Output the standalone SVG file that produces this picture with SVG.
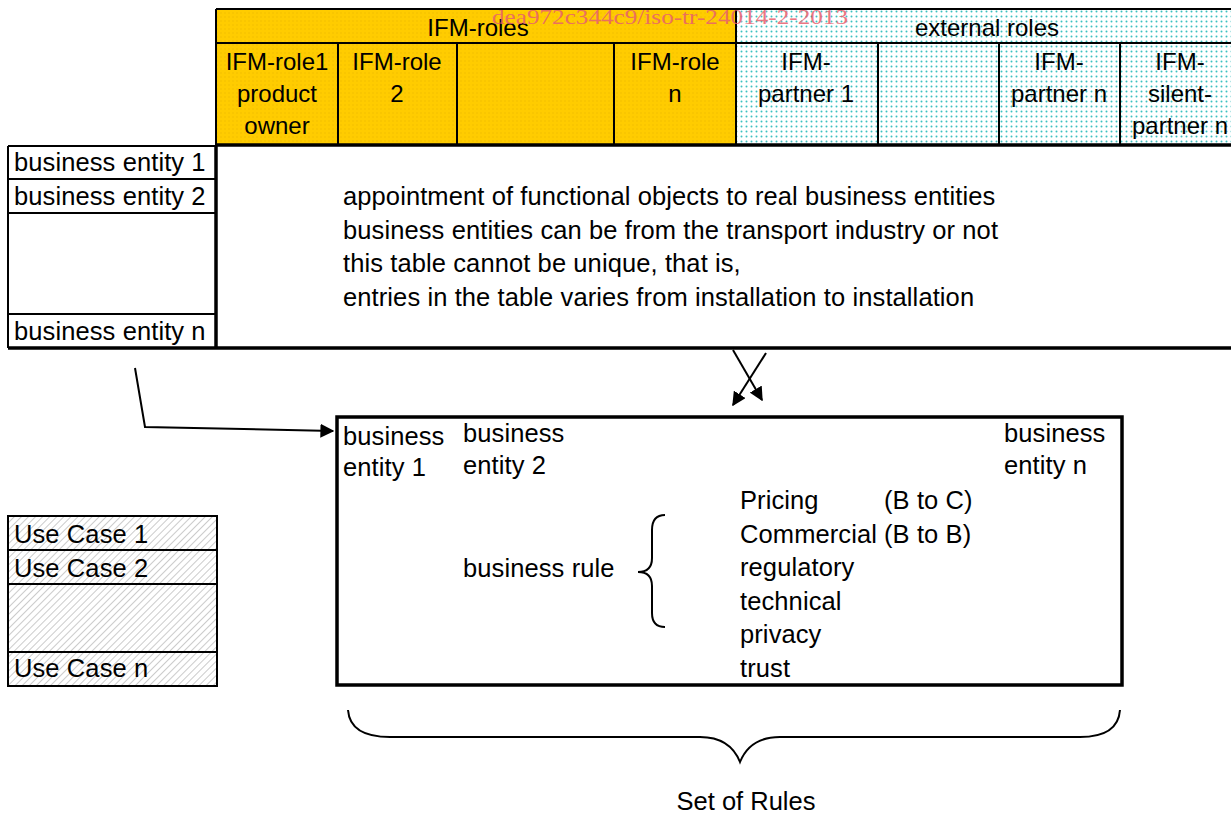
<svg xmlns="http://www.w3.org/2000/svg" width="1231" height="814" viewBox="0 0 1231 814">
<defs>
<pattern id="yel" width="4" height="4" patternUnits="userSpaceOnUse"><rect width="4" height="4" fill="#FFCC00"/><circle cx="1" cy="1" r="0.8" fill="#F2BE00"/></pattern>
<pattern id="cy" width="5" height="5" patternUnits="userSpaceOnUse"><rect width="5" height="5" fill="#ffffff"/><circle cx="1.5" cy="1.5" r="1" fill="#3CC0C0"/></pattern>
<pattern id="hatch" width="5" height="5" patternUnits="userSpaceOnUse" patternTransform="rotate(45)"><rect width="5" height="5" fill="#ffffff"/><line x1="0" y1="0" x2="0" y2="5" stroke="#a8a8a8" stroke-width="1.2"/></pattern>
<marker id="ah" viewBox="0 0 10 10" refX="9" refY="5" markerWidth="14" markerHeight="14" markerUnits="userSpaceOnUse" orient="auto"><path d="M0,0 L10,5 L0,10 z" fill="#000"/></marker>
<style>
text{font-family:"Liberation Sans",Arial,sans-serif;fill:#000}
.h{font-size:24px}
.b{font-size:25.5px;letter-spacing:0.1px}
.c{text-anchor:middle}
.ln{stroke:#000;stroke-width:2;fill:none}
.tk{stroke:#000;stroke-width:3.5;fill:none}
.wm{font-family:"Liberation Serif",serif;font-size:22px;fill:#e8606e;opacity:0.85}
</style>
</defs>

<g id="ifm-roles">
<rect x="216" y="9" width="520" height="136" fill="url(#yel)"/>
<line class="ln" x1="216" y1="43" x2="736" y2="43"/>
<text class="h c" x="478" y="36">IFM-roles</text>
</g>
<g id="external-roles">
<rect x="736" y="9" width="500" height="136" fill="url(#cy)"/>
<line class="ln" x1="736" y1="43" x2="1231" y2="43"/>
<text class="h c" x="987" y="36">external roles</text>
</g>
<g id="top-grid">
<line class="ln" x1="216" y1="9" x2="1231" y2="9"/>
<line class="ln" x1="216" y1="9" x2="216" y2="146"/>
<line class="ln" x1="338" y1="43" x2="338" y2="145"/>
<line class="ln" x1="457" y1="43" x2="457" y2="145"/>
<line class="ln" x1="614" y1="43" x2="614" y2="145"/>
<line class="ln" x1="736" y1="9" x2="736" y2="145"/>
<line class="ln" x1="878" y1="43" x2="878" y2="145"/>
<line class="ln" x1="999" y1="43" x2="999" y2="145"/>
<line class="ln" x1="1120" y1="43" x2="1120" y2="145"/>
<line class="tk" x1="216" y1="145" x2="1231" y2="145"/>
</g>
<g id="role1"><text class="h c" x="277" y="70">IFM-role1</text><text class="h c" x="277" y="102">product</text><text class="h c" x="277" y="134">owner</text></g>
<g id="role2"><text class="h c" x="397" y="70">IFM-role</text><text class="h c" x="397" y="102">2</text></g>
<g id="role-n"><text class="h c" x="675" y="70">IFM-role</text><text class="h c" x="675" y="102">n</text></g>
<g id="partner1"><text class="h c" x="806" y="70">IFM-</text><text class="h c" x="806" y="102">partner 1</text></g>
<g id="partner-n"><text class="h c" x="1059" y="70">IFM-</text><text class="h c" x="1059" y="102">partner n</text></g>
<g id="silent-partner"><text class="h c" x="1180" y="70">IFM-</text><text class="h c" x="1180" y="102">silent-</text><text class="h c" x="1180" y="134">partner n</text></g>

<g id="business-entities">
<rect x="8" y="146" width="208" height="202" fill="#fff"/>
<line class="ln" x1="8" y1="146" x2="216" y2="146"/>
<line class="ln" x1="8" y1="146" x2="8" y2="348"/>
<line class="ln" x1="8" y1="179" x2="216" y2="179"/>
<line class="ln" x1="8" y1="213" x2="216" y2="213"/>
<line class="ln" x1="8" y1="314" x2="216" y2="314"/>
<line class="tk" x1="216" y1="145" x2="216" y2="348"/>
<line class="tk" x1="8" y1="348" x2="1231" y2="348"/>
<text class="b" x="14" y="171">business entity 1</text>
<text class="b" x="14" y="205">business entity 2</text>
<text class="b" x="14" y="340">business entity n</text>
</g>
<g id="appointment-text">
<text class="b" x="343" y="205">appointment of functional objects to real business entities</text>
<text class="b" x="343" y="239">business entities can be from the transport industry or not</text>
<text class="b" x="343" y="272">this table cannot be unique, that is,</text>
<text class="b" x="343" y="306">entries in the table varies from installation to installation</text>
</g>

<text class="wm" x="492" y="24" textLength="356" lengthAdjust="spacingAndGlyphs">dea972c344c9/iso-tr-24014-2-2013</text>

<g id="use-cases">
<rect x="8" y="516" width="209" height="170" fill="url(#hatch)" stroke="#000" stroke-width="2"/>
<line class="ln" x1="8" y1="550" x2="217" y2="550"/>
<line class="ln" x1="8" y1="584" x2="217" y2="584"/>
<line class="ln" x1="8" y1="652" x2="217" y2="652"/>
<text class="b" x="14" y="543">Use Case 1</text>
<text class="b" x="14" y="577">Use Case 2</text>
<text class="b" x="14" y="677">Use Case n</text>
</g>

<g id="rules-box">
<rect x="337" y="417" width="785" height="268" fill="#fff" stroke="#000" stroke-width="3.5"/>
<text class="b" x="343" y="445">business</text><text class="b" x="343" y="476">entity 1</text>
<text class="b" x="463" y="442">business</text><text class="b" x="463" y="474">entity 2</text>
<text class="b" x="1004" y="442">business</text><text class="b" x="1004" y="474">entity n</text>
<text class="b" x="463" y="577">business rule</text>
<path class="ln" d="M665,515 Q652,515 652,530 L652,558 Q652,572 638,572 Q652,572 652,586 L652,613 Q652,627 665,627"/>
<text class="b" x="740" y="509">Pricing</text><text class="b" x="884" y="509">(B to C)</text>
<text class="b" x="740" y="543">Commercial</text><text class="b" x="884" y="543">(B to B)</text>
<text class="b" x="740" y="576">regulatory</text>
<text class="b" x="740" y="610">technical</text>
<text class="b" x="740" y="643">privacy</text>
<text class="b" x="740" y="677">trust</text>
</g>

<g id="set-of-rules">
<path class="ln" d="M348,710 Q350,737 390,737 L700,737 Q730,737 740,762 Q750,737 780,737 L1080,737 Q1118,737 1120,710"/>
<text class="c" x="746" y="810" style="font-size:25.5px">Set of Rules</text>
</g>

<g id="connectors">
<polyline class="ln" points="135,368 145,427 333,431" marker-end="url(#ah)"/>
<line class="ln" x1="733" y1="350" x2="762" y2="400" marker-end="url(#ah)"/>
<line class="ln" x1="766" y1="353" x2="733" y2="405" marker-end="url(#ah)"/>
</g>
</svg>
